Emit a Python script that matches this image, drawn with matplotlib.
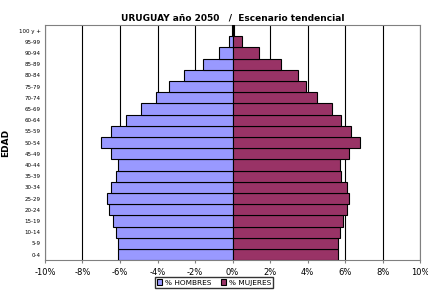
import matplotlib.pyplot as plt
from matplotlib.ticker import FuncFormatter

# Age groups from youngest to oldest
edades = ["0-4", "5-9", "10-14", "15-19", "20-24", "25-29", "30-34", "35-39",
          "40-44", "45-49", "50-54", "55-59", "60-64", "65-69", "70-74",
          "75-79", "80-84", "85-89", "90-94", "95-99", "100 y +"]

# Percent of total population (men shown as negative)
hombres = [-6.1, -6.1, -6.2, -6.4, -6.6, -6.7, -6.5, -6.2, -6.1, -6.5, -7.0,
           -6.5, -5.7, -4.9, -4.1, -3.4, -2.6, -1.6, -0.7, -0.2, -0.05]
mujeres = [5.6, 5.6, 5.7, 5.9, 6.1, 6.2, 6.1, 5.8, 5.7, 6.2, 6.8,
           6.3, 5.8, 5.3, 4.5, 3.9, 3.5, 2.6, 1.4, 0.5, 0.1]

xticks = list(range(-10, 11, 2))

fig = plt.figure(figsize=(4.28, 2.90), dpi=100)
ax = fig.add_axes([0.105, 0.103, 0.877, 0.811])

pos = range(len(edades))
ax.barh(pos, hombres, height=1.0, color="#9999FF", edgecolor="black",
        linewidth=0.8, label="% HOMBRES", zorder=3)
ax.barh(pos, mujeres, height=1.0, color="#993366", edgecolor="black",
        linewidth=0.8, label="% MUJERES", zorder=3)

ax.set_xlim(-10, 10)
ax.set_ylim(-0.5, len(edades) - 0.5)
ax.set_xticks(xticks)
ax.xaxis.set_major_formatter(FuncFormatter(lambda v, p: f"{int(v)}%"))
ax.set_yticks(list(pos))
ax.set_yticklabels(edades)
ax.tick_params(axis="y", labelsize=4, length=0, pad=3)
ax.tick_params(axis="x", labelsize=6, length=2, color="#808080")
ax.grid(axis="x", color="black", linewidth=0.8, zorder=0)
for s in ax.spines.values():
    s.set_color("#808080")
    s.set_linewidth(0.8)

ax.set_title("URUGUAY año 2050   /  Escenario tendencial", fontsize=6.5,
             fontweight="bold", pad=3)
ax.set_ylabel("EDAD", fontsize=6.5, fontweight="bold", labelpad=6)

fig.legend(loc="lower center", bbox_to_anchor=(0.5, -0.005), ncol=2,
           fontsize=5.3, frameon=True, fancybox=False, edgecolor="black",
           handlelength=0.7, handleheight=0.7, handletextpad=0.3,
           columnspacing=1.4, borderpad=0.3)

plt.savefig("out.png", dpi=100)
